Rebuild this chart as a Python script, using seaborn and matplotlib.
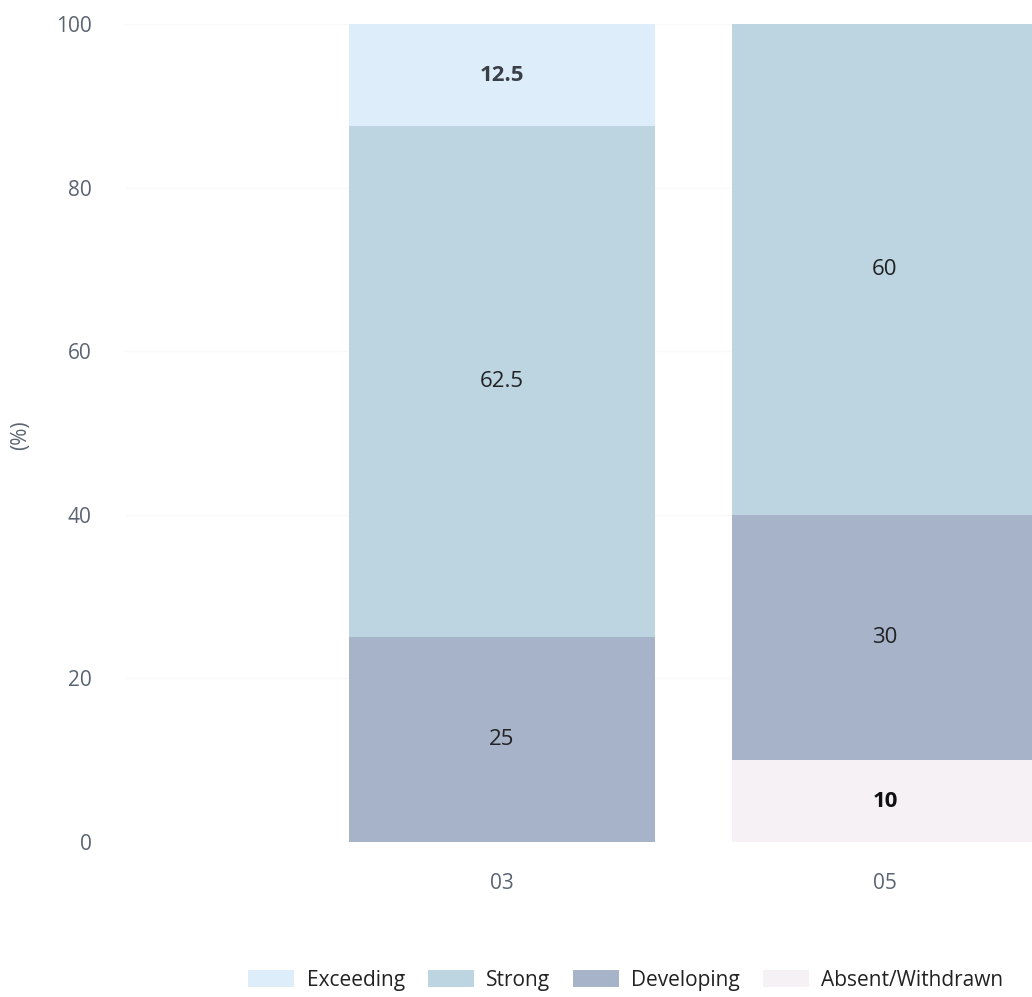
import matplotlib
matplotlib.use("Agg")
import matplotlib.pyplot as plt
from matplotlib.patches import Patch
import numpy as np
import pandas as pd
import seaborn as sns

# data
groups = ["03", "05"]
levels = ["Exceeding", "Strong", "Developing", "Absent/Withdrawn"]
exceeding = [12.5, 0]
strong = [62.5, 60]
developing = [25, 30]
absent = [0, 10]
level_colors = ["#ddeefa", "#bcd5e1", "#a7b3c9", "#f6f1f4"]

sns.set_style("white")
plt.rcParams["font.family"] = ["Open Sans", "DejaVu Sans"]

fig = plt.figure(figsize=(10.32, 9.97), dpi=100)
ax = fig.add_axes([0.121, 0.1555, 0.879, 0.8205])

# stacked bars: draw cumulative tops, tallest first
values = {"Exceeding": exceeding, "Strong": strong,
          "Developing": developing, "Absent/Withdrawn": absent}
stack_order = ["Absent/Withdrawn", "Developing", "Strong", "Exceeding"]
cum = np.zeros(len(groups))
tops = {}
bottoms = {}
for lvl in stack_order:
    bottoms[lvl] = cum.copy()
    cum = cum + np.array(values[lvl], dtype=float)
    tops[lvl] = cum.copy()

for lvl in reversed(stack_order):
    df = pd.DataFrame({"group": groups, "top": tops[lvl]})
    sns.barplot(data=df, x="group", y="top", color=level_colors[levels.index(lvl)],
                saturation=1, width=0.8, linewidth=0, ax=ax, zorder=2)

# segment labels
bold_labels = {("Exceeding", 0), ("Absent/Withdrawn", 1)}
for lvl in stack_order:
    for i, g in enumerate(groups):
        v = values[lvl][i]
        if v <= 0:
            continue
        y = bottoms[lvl][i] + v / 2
        txt = f"{v:g}"
        bold = (lvl, i) in bold_labels
        color = "#111111" if (lvl, i) == ("Absent/Withdrawn", 1) else ("#3a3f47" if bold else "#222222")
        ax.text(i, y, txt, ha="center", va="center", fontsize=16,
                fontweight="bold" if bold else "normal", color=color, zorder=3)

ax.set_ylim(0, 100)
ax.set_xlim(-0.984, 1.384)
ax.set_yticks([0, 20, 40, 60, 80, 100])
ax.yaxis.grid(True, color="#f9f9f9", linewidth=1, zorder=0)
ax.set_axisbelow(True)
for s in ax.spines.values():
    s.set_visible(False)
ax.tick_params(axis="both", length=0, labelsize=15, labelcolor="#5b6472")
ax.tick_params(axis="y", pad=24)
ax.tick_params(axis="x", pad=22)
ax.set_xlabel("")
ax.set_ylabel("")

fig.text(0.02, 1 - 435 / 997, "(%)", rotation=90, ha="center", va="center",
         fontsize=15, color="#5b6472")

handles = [Patch(facecolor=c, edgecolor="none", label=l) for c, l in zip(level_colors, levels)]
fig.legend(handles=handles, loc="center", bbox_to_anchor=(626 / 1032, 1 - 980 / 997),
           ncol=4, frameon=False, fontsize=15, handlelength=2.2, handleheight=0.9,
           handletextpad=0.6, columnspacing=1.1, labelcolor="#222222")

fig.savefig("out.png", dpi=100, facecolor="white")
